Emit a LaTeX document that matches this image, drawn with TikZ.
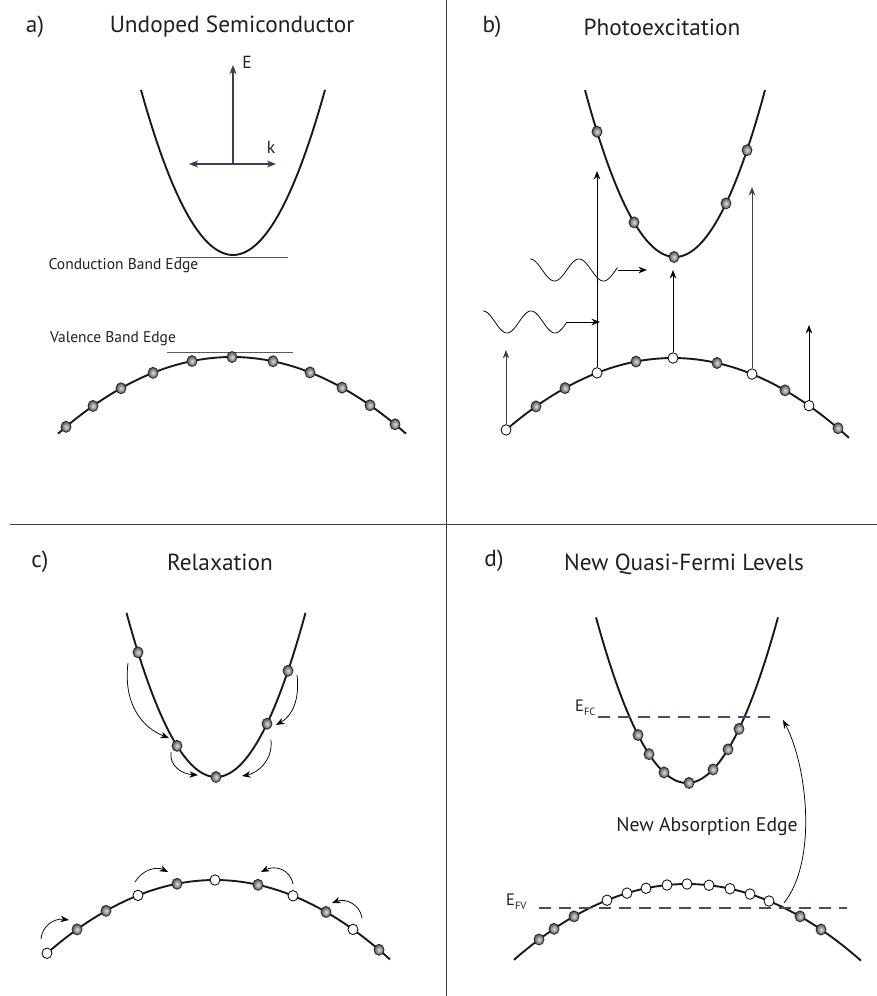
\documentclass[tikz,border=0pt]{standalone}
\usepackage{fontspec}
\setmainfont{PT Sans}
\usetikzlibrary{arrows.meta,shapes.geometric}
\definecolor{axc}{HTML}{3B3B5E}
\definecolor{dashc}{HTML}{4A4A6E}
\definecolor{txt}{HTML}{231F20}
\begin{document}
\begin{tikzpicture}[x=1pt,y=-1pt,
  band/.style={line width=1.9pt, black!90},
  elec/.style={ellipse, draw=black!85, line width=0.8pt, inner sep=0pt, minimum width=10pt, minimum height=11pt, shading=radial, inner color=gray!25, outer color=gray!65!black},
  hole/.style={ellipse, draw=black, line width=0.8pt, fill=white, inner sep=0pt, minimum width=10pt, minimum height=10.5pt},
  varrow/.style={line width=0.9pt, -{Stealth[length=8.5pt,width=6.5pt]}},
  garrow/.style={varrow, draw=black!75},
  carrow/.style={line width=0.75pt, -{Stealth[length=8.5pt,width=6.5pt]}},
  axis/.style={draw=axc, line width=1.1pt},
  edge/.style={draw=black!65, line width=1pt},
  divider/.style={draw=black!75, line width=1pt},
  fermi/.style={draw=dashc, line width=1.3pt, dash pattern=on 12pt off 8pt},
  title/.style={text=txt, font=\fontsize{23.3}{26}\selectfont},
  small/.style={text=txt, font=\fontsize{15.5}{17}\selectfont},
  wave/.style={line width=0.75pt}
]
\useasboundingbox (0,0) rectangle (877,996);

% dividers
\coordinate (vtop) at (446,0);
\coordinate (vbot) at (446,996);
\coordinate (hl) at (10,524);
\coordinate (hr) at (877,524);
\draw[divider] (vtop) -- (vbot);
\draw[divider] (hl) -- (hr);

% ================= a) =================
\node[title] (la) at (35,27) {a)};
\node[title] (ta) at (232,27) {Undoped Semiconductor};
\draw[band] plot[domain=-92:92, samples=60] ({233+\x},{255-0.0195*(\x)*(\x)});
\coordinate (ao) at (233,164);
\coordinate (aE) at (233,65);
\coordinate (akl) at (189,164);
\coordinate (akr) at (276,164);
\draw[axis, -{Stealth[length=9pt,width=7pt,inset=2.5pt]}] (ao) -- (aE);
\draw[axis, {Stealth[length=9pt,width=7pt,inset=2.5pt]}-{Stealth[length=9pt,width=7pt,inset=2.5pt]}] (akl) -- (akr);
\node[text=txt, font=\fontsize{17.5}{18}\selectfont] (lE) at (247,62) {E};
\node[text=txt, font=\fontsize{17.5}{18}\selectfont] (lk) at (271,147) {k};
\coordinate (cel) at (176,257); \coordinate (cer) at (288,257);
\draw[edge] (cel) -- (cer);
\node[small] (lcbe) at (123.5,266) {Conduction Band Edge};
\coordinate (vel) at (167,352); \coordinate (ver) at (293,352);
\draw[edge] (vel) -- (ver);
\node[small] (lvbe) at (113,339) {Valence Band Edge};
\draw[band] plot[domain=-174:174, samples=60] ({232+\x},{357+0.00254*(\x)*(\x)});
\foreach \x [count=\i] in {66,93,121,153,192,232,273,310,342,370,395}
  \node[elec] (ae\i) at ({\x},{357+0.00254*(\x-232)*(\x-232)}) {};

% ================= b) =================
\node[title] (lb) at (492,27) {b)};
\node[title] (tb) at (662,27) {Photoexcitation};
\draw[band] plot[domain=-90:90, samples=60] ({675+\x},{257-0.0206*(\x)*(\x)});
\draw[band] plot[domain=-170:176, samples=60] ({673+\x},{358+0.00258*(\x)*(\x)});
% holes in valence band
\foreach \x [count=\i] in {506,597,673,752,809}
  \node[hole] (bh\i) at ({\x},{358+0.00258*(\x-673)*(\x-673)}) {};
\foreach \x [count=\i] in {536,565,636,717,785,838}
  \node[elec] (bv\i) at ({\x},{358+0.00258*(\x-673)*(\x-673)}) {};
% electrons in conduction band
\foreach \x [count=\i] in {597,634,674,726,747}
  \node[elec] (bc\i) at ({\x},{257-0.0206*(\x-675)*(\x-675)}) {};
% excitation arrows
\coordinate (bt1) at (506,350);
\coordinate (bt2) at (597,171);
\coordinate (bt3) at (673,270);
\coordinate (bt4) at (752,187);
\coordinate (bt5) at (809,325);
\draw[garrow] (bh1.north) -- (bt1);
\draw[varrow] (bh2.north) -- (bt2);
\draw[varrow] (bh3.north) -- (bt3);
\draw[garrow] (bh4.north) -- (bt4);
\draw[varrow] (bh5.north) -- (bt5);
% photons
\coordinate (pw1) at (617.5,270);
\coordinate (pt1) at (647,270);
\draw[wave] plot[domain=0:87.5, samples=90] ({530+\x},{270-11*cos(7.3469*\x)});
\draw[carrow] (pw1) -- (pt1);
\coordinate (pw2) at (567,322);
\coordinate (pt2) at (600,322);
\draw[wave] plot[domain=0:84, samples=90] ({483+\x},{322-11*cos(7.5*\x)});
\draw[carrow] (pw2) -- (pt2);

% ================= c) =================
\node[title] (lc) at (40,562) {c)};
\node[title] (tc) at (220,562) {Relaxation};
\draw[band] plot[domain=-89.5:89.5, samples=60] ({216+\x},{777-0.0205*(\x)*(\x)});
\foreach \x [count=\i] in {138,177,216,267,288}
  \node[elec] (cc\i) at ({\x},{777-0.0205*(\x-216)*(\x-216)}) {};
\coordinate (ca1) at (128,663); \coordinate (cb1) at (169,738);
\coordinate (ca2) at (171,752); \coordinate (cb2) at (198,775);
\coordinate (ca3) at (297,675); \coordinate (cb3) at (276,725);
\coordinate (ca4) at (271,740); \coordinate (cb4) at (242,776);
\draw[carrow] (ca1) .. controls (123,705) and (143,728) .. (cb1);
\draw[carrow] (ca2) .. controls (169,766) and (182,774) .. (cb2);
\draw[carrow] (ca3) .. controls (300,700) and (292,716) .. (cb3);
\draw[carrow] (ca4) .. controls (273,760) and (258,773) .. (cb4);
\draw[band] plot[domain=-172:175, samples=60] ({215+\x},{880+0.0026*(\x)*(\x)});
\foreach \x [count=\i] in {47,138,215,293,353}
  \node[hole] (ch\i) at ({\x},{880+0.0026*(\x-215)*(\x-215)}) {};
\foreach \x [count=\i] in {77,106,177,258,326,379}
  \node[elec] (cv\i) at ({\x},{880+0.0026*(\x-215)*(\x-215)}) {};
\coordinate (cva1) at (41,939); \coordinate (cvb1) at (69,920);
\coordinate (cva2) at (135,882); \coordinate (cvb2) at (168,872);
\coordinate (cva3) at (293,884); \coordinate (cvb3) at (261,872);
\coordinate (cva4) at (362,918); \coordinate (cvb4) at (332,903);
\draw[carrow] (cva1) .. controls (42,926) and (54,918) .. (cvb1);
\draw[carrow] (cva2) .. controls (142,870) and (156,866) .. (cvb2);
\draw[carrow] (cva3) .. controls (290,869) and (275,865) .. (cvb3);
\draw[carrow] (cva4) .. controls (360,904) and (345,898) .. (cvb4);

% ================= d) =================
\node[title] (ld) at (494,561) {d)};
\node[title] (td) at (684,564) {New Quasi-Fermi Levels};
\draw[band] plot[domain=-91:91, samples=60] ({687+\x},{783-0.02*(\x)*(\x)});
\foreach \x [count=\i] in {638,649,664,689,713,728,739}
  \node[elec] (dc\i) at ({\x},{783-0.02*(\x-687)*(\x-687)}) {};
\coordinate (dfc1) at (598,717); \coordinate (dfc2) at (773,717);
\draw[fermi] (dfc1) -- (dfc2);
\node[text=txt, font=\fontsize{16.5}{17}\selectfont, anchor=west, inner sep=0pt] (lEfc) at (575,708) {E\raisebox{-0.45ex}{\fontsize{10.5}{10}\selectfont FC}};
\draw[band] plot[domain=-173:174, samples=60] ({687+\x},{884+0.00254*(\x)*(\x)});
\foreach \x [count=\i] in {539,554,574,800,821}
  \node[elec] (dv\i) at ({\x},{884+0.00254*(\x-687)*(\x-687)}) {};
\foreach \x [count=\i] in {607,627,646,667,687,709,730,750,769}
  \node[hole] (dh\i) at ({\x},{884+0.00254*(\x-687)*(\x-687)}) {};
\coordinate (dfv1) at (539,908); \coordinate (dfv2) at (847,908);
\draw[fermi] (dfv1) -- (dfv2);
\node[text=txt, font=\fontsize{16.5}{17}\selectfont, anchor=west, inner sep=0pt] (lEfv) at (506,902) {E\raisebox{-0.45ex}{\fontsize{10.5}{10}\selectfont FV}};
\coordinate (dab1) at (784,903); \coordinate (dab2) at (783,720);
\draw[carrow] (dab1) .. controls (818,860) and (807,765) .. (dab2);
\node[text=txt, font=\fontsize{19.7}{21}\selectfont] (lnae) at (707,827) {New Absorption Edge};
\end{tikzpicture}
\end{document}
